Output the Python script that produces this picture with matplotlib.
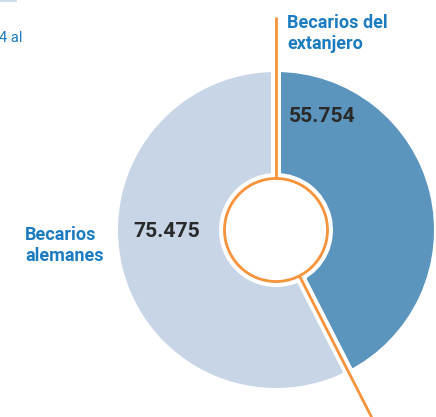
import matplotlib
matplotlib.use("Agg")
import matplotlib.pyplot as plt
import numpy as np
from matplotlib.patches import Circle

# Data
categories = ["Becarios del\nextanjero", "Becarios\nalemanes"]
values = [55754, 75475]
value_labels = ["55.754", "75.475"]
colors = ["#5b95bd", "#c8d5e6"]

W, H = 436, 417
fig = plt.figure(figsize=(W / 100, H / 100), dpi=100)
ax = fig.add_axes([0, 0, 1, 1])

cx, cy = 276, 187
R_out, R_in = 163, 52
orange = "#f7933b"
blue_txt = "#1b7cc1"
dark = "#2a2a2a"

ax.pie(values, colors=colors, startangle=90, counterclock=False,
       radius=R_out, center=(cx, cy), frame=True,
       wedgeprops=dict(width=R_out - R_in, edgecolor="white", linewidth=7.2))
ax.set_xlim(0, W)
ax.set_ylim(0, H)
ax.set_aspect("equal")
ax.axis("off")

# Orange ring
ax.add_patch(Circle((cx, cy), 51.5, fill=False, edgecolor=orange, lw=2.0, zorder=5))

# Leader lines along wedge boundaries
total = sum(values)
ax.plot([cx, cx], [cy + 51.5, 400], color=orange, lw=2.0, zorder=5, solid_capstyle="butt")
th1 = np.deg2rad(90 - 360 * values[0] / total)
ax.plot([cx + 51.5 * np.cos(th1), cx + 230 * np.cos(th1)],
        [cy + 51.5 * np.sin(th1), cy + 230 * np.sin(th1)],
        color=orange, lw=2.0, zorder=5, solid_capstyle="butt")

fam = ["Roboto", "DejaVu Sans"]
# Category labels (last-line baseline)
ax.text(287, H - 49, categories[0], color=blue_txt, fontsize=13, fontweight="bold",
        family=fam, ha="left", va="baseline", linespacing=1.25)
ax.text(25, H - 261, categories[1], color=blue_txt, fontsize=13, fontweight="bold",
        family=fam, ha="left", va="baseline", linespacing=1.25)
# Value labels
ax.text(289, H - 122, value_labels[0], color=dark, fontsize=15.3, fontweight="bold",
        family=fam, ha="left", va="baseline")
ax.text(133, H - 237, value_labels[1], color=dark, fontsize=15.3, fontweight="bold",
        family=fam, ha="left", va="baseline")

# Cropped text fragment top-left
ax.text(-1, H - 42, "4 al", color=blue_txt, fontsize=10.5, family=fam,
        ha="left", va="baseline")
ax.plot([0, 16], [H - 0.8, H - 0.8], color="#c8d5e6", lw=1.2)

fig.savefig("out.png", dpi=100)
